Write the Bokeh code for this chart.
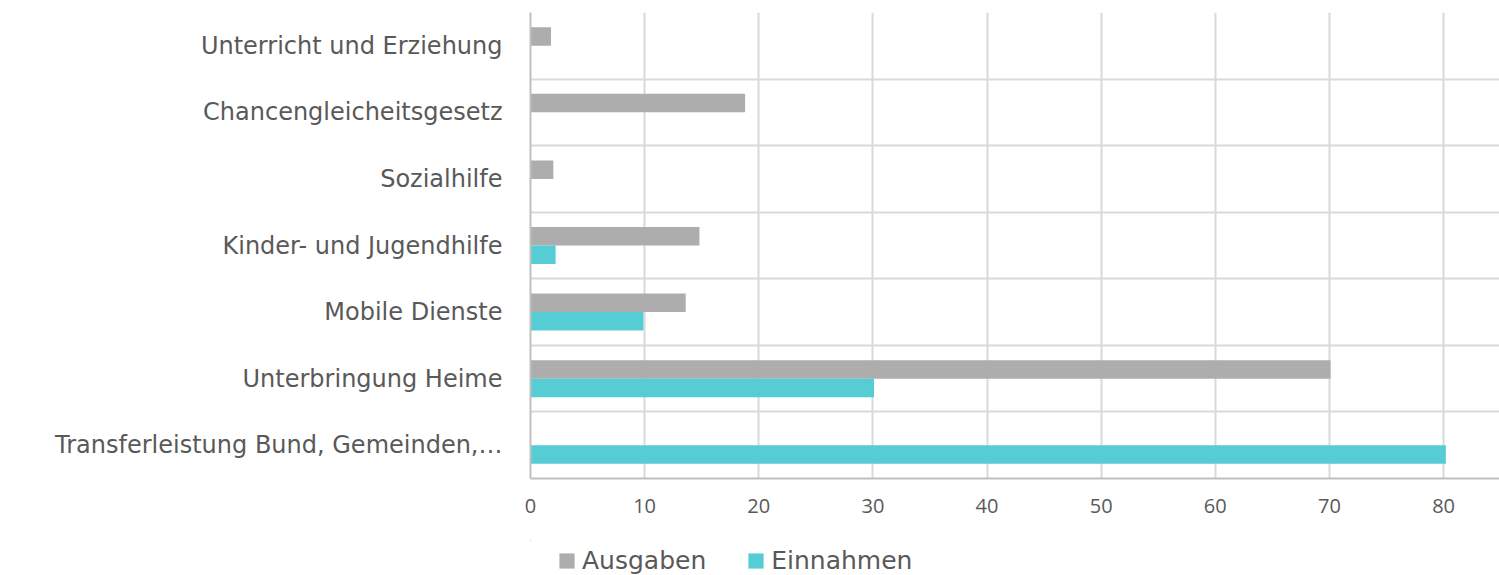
from bokeh.plotting import figure
from bokeh.layouts import column
from bokeh.models import FixedTicker, Legend, LegendItem, ColumnDataSource, Range1d
from bokeh.transform import dodge
from bokeh.embed import file_html
from bokeh.resources import INLINE

categories = [
    "Unterricht und Erziehung",
    "Chancengleicheitsgesetz",
    "Sozialhilfe",
    "Kinder- und Jugendhilfe",
    "Mobile Dienste",
    "Unterbringung Heime",
    "Transferleistung Bund, Gemeinden,\u2026",
]
ausgaben = [1.8, 18.8, 2.0, 14.8, 13.6, 70.1, 0.0]
einnahmen = [0.0, 0.0, 0.0, 2.2, 9.9, 30.1, 80.2]
x_ticks = [0, 10, 20, 30, 40, 50, 60, 70, 80]
series_names = ["Ausgaben", "Einnahmen"]

GRAY = "#ADADAD"
CYAN = "#56CCD4"
TXT = "#595959"
LBL_FONT = "DejaVu Sans"

n = len(categories)
pos = [n - 0.5 - i for i in range(n)]
src = ColumnDataSource(dict(y=pos, a=ausgaben, e=einnahmen))

p = figure(
    width=1499, height=540,
    x_range=Range1d(0, 84.9), y_range=Range1d(0, n),
    output_backend="svg", toolbar_location=None,
    min_border_left=530, min_border_top=12, min_border_right=0, min_border_bottom=62,
)
p.outline_line_color = None
p.background_fill_color = "white"
p.border_fill_color = "white"

p.hbar(y=dodge("y", 0.139, range=p.y_range), right="a", height=0.278,
       fill_color=GRAY, line_color=None, source=src)
p.hbar(y=dodge("y", -0.139, range=p.y_range), right="e", height=0.278,
       fill_color=CYAN, line_color=None, source=src)

# grids
p.xgrid.ticker = FixedTicker(ticks=x_ticks)
p.xgrid.grid_line_color = "#D9D9D9"
p.xgrid.grid_line_width = 2
p.ygrid.ticker = FixedTicker(ticks=list(range(n + 1)))
p.ygrid.grid_line_color = "#D9D9D9"
p.ygrid.grid_line_width = 2

# y axis
ya = p.yaxis[0]
ya.ticker = FixedTicker(ticks=pos)
ya.major_label_overrides = {pp: c for pp, c in zip(pos, categories)}
ya.major_tick_line_color = None
ya.minor_tick_line_color = None
ya.major_tick_out = 0
ya.major_tick_in = 0
ya.axis_line_color = "#BFBFBF"
ya.axis_line_width = 2
ya.major_label_standoff = 28
ya.major_label_text_font = LBL_FONT
ya.major_label_text_font_size = "24px"
ya.major_label_text_color = TXT

# x axis
xa = p.xaxis[0]
xa.ticker = FixedTicker(ticks=x_ticks)
xa.major_tick_line_color = None
xa.minor_tick_line_color = None
xa.major_tick_out = 0
xa.major_tick_in = 0
xa.axis_line_color = "#BFBFBF"
xa.axis_line_width = 2
xa.major_label_standoff = 20
xa.major_label_text_font = "Open Sans"
xa.major_label_text_font_size = "20px"
xa.major_label_text_color = TXT

# legend strip below the chart (its glyphs share the data but lie out of view)
p2 = figure(
    width=1499, height=35,
    x_range=Range1d(1000, 1001), y_range=Range1d(-50, -49),
    output_backend="svg", toolbar_location=None,
    min_border=0, x_axis_type=None, y_axis_type=None,
)
p2.outline_line_color = None
p2.grid.visible = False
la = p2.hbar(y="y", right="a", height=0.278, fill_color=GRAY, line_color=None, source=src)
le = p2.hbar(y="y", right="e", height=0.278, fill_color=CYAN, line_color=None, source=src)

legend = Legend(
    items=[LegendItem(label=series_names[0], renderers=[la]),
           LegendItem(label=series_names[1], renderers=[le])],
    orientation="horizontal",
    location=(27, 0),
    label_text_font=LBL_FONT,
    label_text_font_size="25px",
    label_text_color=TXT,
    glyph_width=19, glyph_height=19,
    label_standoff=6, spacing=40,
    padding=0, margin=0,
    border_line_color=None, background_fill_alpha=0,
)
p2.add_layout(legend)

layout = column(p, p2, spacing=0)
open("out.html", "w").write(file_html(layout, INLINE))
